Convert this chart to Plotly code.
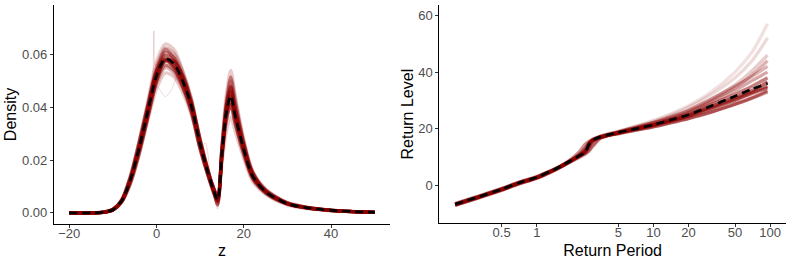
import plotly.graph_objects as go

# ---------------- Left panel: density ----------------
z_grid = [-20, -15, -12, -10, -8, -6, -4, -2, 0, 2, 4, 6, 8, 10, 12, 13, 14, 15, 16, 17, 18, 20, 22, 25, 30, 35, 40, 45, 50]
dens_mean = [0, 0, 0.0003, 0.0012, 0.0045, 0.0125, 0.0245, 0.0385, 0.052, 0.0585, 0.0565, 0.050, 0.0405, 0.026, 0.014, 0.009, 0.005, 0.023, 0.038, 0.0445, 0.037, 0.024, 0.014, 0.008, 0.0035, 0.0018, 0.001, 0.0005, 0.0002]

d01 = [0, 0, 0.0003, 0.0013, 0.0048, 0.0135, 0.027, 0.0425, 0.0575, 0.064, 0.062, 0.054, 0.043, 0.027, 0.014, 0.008, 0.004, 0.019, 0.031, 0.0365, 0.031, 0.0205, 0.012, 0.007, 0.003, 0.0015, 0.0008, 0.0004, 0.0002]
d02 = [0, 0, 0.0003, 0.0011, 0.004, 0.0115, 0.0225, 0.035, 0.047, 0.053, 0.0515, 0.0455, 0.037, 0.024, 0.013, 0.0085, 0.0045, 0.026, 0.045, 0.054, 0.045, 0.028, 0.016, 0.009, 0.0038, 0.002, 0.0011, 0.0006, 0.0003]
d03 = [0, 0, 0.0003, 0.0012, 0.0047, 0.013, 0.0255, 0.040, 0.054, 0.061, 0.059, 0.052, 0.042, 0.027, 0.0145, 0.0095, 0.0055, 0.025, 0.041, 0.048, 0.040, 0.026, 0.015, 0.0085, 0.0037, 0.0019, 0.001, 0.0005, 0.0002]
d04 = [0, 0, 0.0003, 0.0012, 0.0043, 0.012, 0.0235, 0.037, 0.050, 0.056, 0.054, 0.048, 0.039, 0.025, 0.0135, 0.0085, 0.0045, 0.021, 0.035, 0.041, 0.034, 0.022, 0.013, 0.0075, 0.0033, 0.0017, 0.0009, 0.0005, 0.0002]
d05 = [0, 0, 0.0002, 0.0010, 0.004, 0.011, 0.022, 0.036, 0.050, 0.058, 0.0575, 0.052, 0.042, 0.028, 0.015, 0.010, 0.006, 0.022, 0.039, 0.046, 0.038, 0.024, 0.014, 0.008, 0.0035, 0.0018, 0.001, 0.0005, 0.0002]
d06 = [0, 0, 0.0004, 0.0014, 0.005, 0.014, 0.027, 0.041, 0.054, 0.0585, 0.055, 0.048, 0.038, 0.024, 0.013, 0.008, 0.0045, 0.024, 0.037, 0.043, 0.036, 0.024, 0.014, 0.008, 0.0035, 0.0018, 0.001, 0.0005, 0.0002]
d07 = [0, 0, 0.0003, 0.0013, 0.0048, 0.0134, 0.026, 0.041, 0.0555, 0.0625, 0.0605, 0.0535, 0.0433, 0.0278, 0.015, 0.0088, 0.0048, 0.022, 0.0365, 0.0427, 0.0355, 0.023, 0.0134, 0.0077, 0.0034, 0.0017, 0.0009, 0.0005, 0.0002]
d08 = [0, 0, 0.0003, 0.0011, 0.0042, 0.0118, 0.023, 0.036, 0.049, 0.055, 0.053, 0.047, 0.038, 0.0245, 0.0132, 0.0092, 0.0052, 0.0255, 0.0425, 0.050, 0.0415, 0.027, 0.0157, 0.009, 0.0039, 0.002, 0.0011, 0.0006, 0.0003]
d09 = [0, 0, 0.0003, 0.0012, 0.0046, 0.0127, 0.025, 0.0393, 0.053, 0.0597, 0.0576, 0.051, 0.0413, 0.0265, 0.0143, 0.009, 0.003, 0.023, 0.038, 0.0445, 0.037, 0.024, 0.014, 0.008, 0.0035, 0.0018, 0.001, 0.0005, 0.0002]
d10 = [0, 0, 0.0003, 0.0012, 0.0044, 0.0122, 0.024, 0.038, 0.0515, 0.0575, 0.0555, 0.0495, 0.040, 0.0258, 0.0145, 0.0098, 0.0062, 0.0225, 0.0395, 0.0475, 0.0395, 0.0255, 0.0148, 0.0084, 0.0036, 0.0019, 0.001, 0.0005, 0.0002]
d11 = [0, 0, 0.0003, 0.0012, 0.0046, 0.0128, 0.0252, 0.0395, 0.0535, 0.062, 0.0585, 0.0505, 0.040, 0.0255, 0.0135, 0.0085, 0.0035, 0.0215, 0.0355, 0.0405, 0.034, 0.0225, 0.0132, 0.0076, 0.0033, 0.0017, 0.0009, 0.0005, 0.0002]
d12 = [0, 0, 0.0003, 0.0012, 0.0045, 0.0125, 0.0243, 0.0382, 0.0518, 0.0578, 0.0562, 0.0502, 0.041, 0.0268, 0.0148, 0.0095, 0.0058, 0.0245, 0.041, 0.0515, 0.043, 0.0265, 0.0152, 0.0086, 0.0037, 0.0019, 0.001, 0.0005, 0.0002]

# faint irregular draws
o1_z = [-20, -12, -8, -6, -4, -2, -1, -0.6, -0.3, 1, 2, 4, 6, 8, 10, 12, 14, 16, 17, 18, 20, 25, 30, 40, 50]
o1_d = [0, 0.0003, 0.0045, 0.0125, 0.0245, 0.0385, 0.046, 0.069, 0.056, 0.058, 0.0588, 0.0565, 0.050, 0.0405, 0.026, 0.014, 0.0045, 0.039, 0.046, 0.038, 0.024, 0.008, 0.0035, 0.001, 0.0002]
o2_z = [-20, -12, -8, -6, -4, -2, 0, 2, 3.5, 5.5, 7, 8, 10, 12, 14, 16, 17, 18, 20, 25, 30, 40, 50]
o2_d = [0, 0.0003, 0.0045, 0.0125, 0.0245, 0.0385, 0.048, 0.044, 0.047, 0.0548, 0.049, 0.042, 0.026, 0.014, 0.005, 0.038, 0.0445, 0.037, 0.024, 0.008, 0.0035, 0.001, 0.0002]
o3_z = [-20, -12, -8, -6, -4, -2, 0, 2, 4, 6, 8, 9.8, 11.2, 12.5, 14, 16, 17, 18, 20, 25, 30, 40, 50]
o3_d = [0, 0.0003, 0.0045, 0.0125, 0.0245, 0.0385, 0.052, 0.0585, 0.0565, 0.050, 0.0405, 0.0245, 0.0265, 0.012, 0.0015, 0.036, 0.043, 0.036, 0.024, 0.008, 0.0035, 0.001, 0.0002]

dens_samples = [d01, d02, d03, d04, d05, d06, d07, d08, d09, d10, d11, d12]
dens_outliers = [(o1_z, o1_d), (o2_z, o2_d), (o3_z, o3_d)]

# ---------------- Right panel: return levels ----------------
T_grid = [0.2, 0.3, 0.5, 0.7, 1, 1.3, 1.6, 2, 2.3, 2.6, 2.8, 3, 3.5, 4, 5, 7, 10, 15, 20, 30, 50, 70, 95]
rl_mean = [-6.5, -4.2, -1.2, 1.0, 3.0, 5.0, 6.8, 9.0, 10.5, 11.8, 14.5, 16.0, 17.2, 17.8, 18.8, 20.0, 21.5, 23.5, 25.0, 27.8, 31.5, 34.0, 36.0]

r01 = [-6.8, -4.5, -1.5, 0.7, 2.7, 4.8, 6.9, 9.6, 11.8, 14.6, 15.6, 16.3, 17.2, 17.7, 18.4, 19.6, 20.8, 22.5, 23.7, 25.8, 28.6, 30.8, 33.0]
r02 = [-6.2, -3.9, -0.9, 1.3, 3.3, 5.2, 6.7, 8.6, 9.8, 11.0, 12.0, 13.5, 16.5, 17.6, 18.8, 20.4, 22.2, 24.6, 26.5, 30.0, 35.5, 40.5, 46.0]
r03 = [-6.6, -4.3, -1.3, 0.9, 2.9, 4.9, 6.8, 9.2, 10.9, 13.0, 15.0, 16.1, 17.1, 17.7, 18.6, 19.9, 21.3, 23.2, 24.6, 27.2, 30.5, 32.8, 35.0]
r04 = [-6.4, -4.1, -1.1, 1.1, 3.1, 5.1, 6.9, 9.0, 10.4, 11.6, 13.2, 15.5, 17.3, 18.0, 19.0, 20.6, 22.3, 24.7, 26.6, 30.2, 35.0, 38.5, 42.0]
r05 = [-6.9, -4.6, -1.6, 0.6, 2.6, 4.6, 6.5, 8.8, 10.4, 12.2, 14.8, 15.9, 16.9, 17.5, 18.3, 19.5, 20.7, 22.4, 23.6, 25.6, 28.8, 31.0, 33.5]
r06 = [-6.3, -4.0, -1.0, 1.2, 3.2, 5.2, 7.0, 9.3, 11.0, 13.4, 15.3, 16.4, 17.5, 18.2, 19.2, 21.0, 23.0, 25.8, 28.2, 32.5, 40.0, 47.0, 57.0]
r07 = [-6.5, -4.2, -1.2, 1.0, 3.0, 5.0, 6.8, 9.1, 10.7, 12.5, 14.2, 15.8, 17.2, 17.9, 18.9, 20.3, 21.9, 24.0, 25.8, 29.0, 33.5, 37.0, 40.0]
r08 = [-6.7, -4.4, -1.4, 0.8, 2.8, 4.8, 6.6, 8.8, 10.1, 11.3, 12.4, 14.0, 16.8, 17.6, 18.5, 19.8, 21.2, 23.0, 24.4, 26.8, 30.0, 32.5, 34.5]
r09 = [-6.4, -4.1, -1.1, 1.1, 3.1, 5.1, 6.9, 9.2, 10.8, 12.8, 14.9, 16.2, 17.4, 18.1, 19.1, 20.8, 22.7, 25.3, 27.6, 31.6, 38.0, 44.0, 52.0]
r10 = [-6.6, -4.3, -1.3, 0.9, 2.9, 4.9, 6.7, 8.9, 10.3, 11.8, 13.8, 15.7, 17.0, 17.7, 18.7, 20.1, 21.6, 23.7, 25.3, 28.4, 32.2, 35.0, 38.0]
r11 = [-6.5, -4.2, -1.2, 1.0, 3.0, 5.0, 6.8, 9.0, 10.6, 12.0, 14.6, 16.0, 17.1, 17.8, 18.6, 20.0, 21.4, 23.3, 24.9, 27.6, 31.0, 33.5, 36.5]
r12 = [-6.3, -4.0, -1.0, 1.2, 3.2, 5.2, 7.0, 9.1, 10.5, 11.9, 14.0, 15.9, 17.3, 18.0, 18.9, 20.5, 22.1, 24.3, 26.2, 29.6, 34.5, 39.0, 44.0]

rl_samples = [r01, r02, r03, r04, r05, r06, r07, r08, r09, r10, r11, r12]

# ---------------- ticks ----------------
z_ticks = [-20, 0, 20, 40]
z_ticktext = ["\u221220", "0", "20", "40"]
dens_ticks = [0, 0.02, 0.04, 0.06]
dens_ticktext = ["0.00", "0.02", "0.04", "0.06"]
T_ticks = [0.5, 1, 5, 10, 20, 50, 100]
T_ticktext = ["0.5", "1", "5", "10", "20", "50", "100"]
rl_ticks = [0, 20, 40, 60]
rl_ticktext = ["0", "20", "40", "60"]

# styling: opacity of each sample line (extreme draws fainter)
dens_alpha = [0.2, 0.2, 0.5, 0.5, 0.55, 0.55, 0.3, 0.3, 0.6, 0.6, 0.35, 0.45]
rl_alpha = [0.45, 0.2, 0.55, 0.3, 0.45, 0.12, 0.35, 0.55, 0.15, 0.5, 0.6, 0.3]

fig = go.Figure()

for s, a in zip(dens_samples, dens_alpha):
    fig.add_trace(go.Scatter(x=z_grid, y=s, mode="lines",
                             line=dict(color=f"rgba(139,0,0,{a})", width=3.3, shape="spline", smoothing=0.8),
                             xaxis="x", yaxis="y", hoverinfo="skip", showlegend=False))
for zz, dd in dens_outliers:
    fig.add_trace(go.Scatter(x=zz, y=dd, mode="lines", line=dict(color="rgba(139,0,0,0.15)", width=1.0, shape="spline", smoothing=0.6),
                             xaxis="x", yaxis="y", hoverinfo="skip", showlegend=False))
fig.add_trace(go.Scatter(x=z_grid, y=dens_mean, mode="lines",
                         line=dict(color="black", width=2.7, dash="8px,5px", shape="spline", smoothing=0.8),
                         xaxis="x", yaxis="y", showlegend=False))

for s, a in zip(rl_samples, rl_alpha):
    fig.add_trace(go.Scatter(x=T_grid, y=s, mode="lines",
                             line=dict(color=f"rgba(139,0,0,{a})", width=3.3, shape="spline", smoothing=0.8),
                             xaxis="x2", yaxis="y2", hoverinfo="skip", showlegend=False))
fig.add_trace(go.Scatter(x=T_grid, y=rl_mean, mode="lines",
                         line=dict(color="black", width=2.7, dash="8px,5px", shape="spline", smoothing=0.8),
                         xaxis="x2", yaxis="y2", showlegend=False))

W, H = 792, 264
axis_common = dict(showgrid=False, zeroline=False, showline=True, linecolor="black", linewidth=1.1,
                   ticks="outside", ticklen=3, tickwidth=1, tickcolor="#333333", automargin=False,
                   tickfont=dict(family="Liberation Sans, Arial, sans-serif", size=13, color="#4D4D4D"))
title_font = dict(family="Liberation Sans, Arial, sans-serif", size=16, color="black")

fig.update_layout(
    width=W, height=H, margin=dict(l=0, r=0, t=0, b=0),
    paper_bgcolor="white", plot_bgcolor="white", showlegend=False,
    xaxis=dict(domain=[54 / W, 390 / W], range=[-23.5, 53.5], tickvals=z_ticks, ticktext=z_ticktext,
               anchor="y", ticklabelstandoff=-6, title=dict(text="z", font=title_font, standoff=5), **axis_common),
    yaxis=dict(domain=[(H - 224) / H, (H - 5) / H], range=[-0.0042, 0.0788], tickvals=dens_ticks, ticktext=dens_ticktext,
               anchor="x", title=dict(text="Density", font=title_font, standoff=1), **axis_common),
    xaxis2=dict(domain=[439.3 / W, 786 / W], type="log", range=[-0.835, 2.136], tickvals=T_ticks, ticktext=T_ticktext,
                anchor="y2", ticklabelstandoff=-6, title=dict(text="Return Period", font=title_font, standoff=5), **axis_common),
    yaxis2=dict(domain=[(H - 223.3) / H, (H - 5) / H], range=[-13.2, 63.6], tickvals=rl_ticks, ticktext=rl_ticktext,
                anchor="x2", title=dict(text="Return Level", font=title_font, standoff=0), **axis_common),
)

fig.write_html("out.html", config={"displayModeBar": False},
               post_script="document.body.style.margin='0px';document.body.style.overflow='hidden';")
